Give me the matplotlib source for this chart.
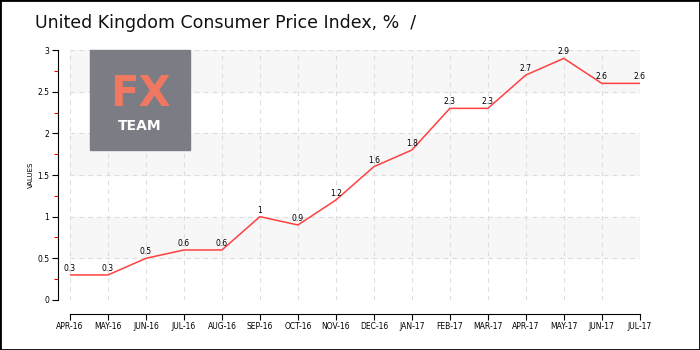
import numpy as np
import matplotlib
matplotlib.use("Agg")
import matplotlib.pyplot as plt
from matplotlib.patches import Rectangle

# 数据
months = ['APR-16', 'MAY-16', 'JUN-16', 'JUL-16', 'AUG-16', 'SEP-16', 'OCT-16', 'NOV-16',
          'DEC-16', 'JAN-17', 'FEB-17', 'MAR-17', 'APR-17', 'MAY-17', 'JUN-17', 'JUL-17']
cpi = [0.3, 0.3, 0.5, 0.6, 0.6, 1, 0.9, 1.2, 1.6, 1.8, 2.3, 2.3, 2.7, 2.9, 2.6, 2.6]
yticks = [0, 0.5, 1, 1.5, 2, 2.5, 3]

plt.rcParams['font.family'] = ['DejaVu Sans']

fig = plt.figure(figsize=(7, 3.5), dpi=100)
fig.patch.set_facecolor('white')
fig.patches.append(Rectangle((0, 0), 1, 1, transform=fig.transFigure, fill=False,
                             edgecolor='black', linewidth=2))

ax = fig.add_axes([0.1, 0.143, 0.814, 0.714])
x = np.arange(len(months))

# 背景条纹
for lo in yticks[1:-1:2]:
    ax.axhspan(lo, lo + 0.5, color='#f7f7f7', zorder=0)

ax.plot(x, cpi, color='#ff4040', linewidth=1.1, zorder=3)
for xi, v in zip(x, cpi):
    ax.annotate(f'{v:g}', (xi, v), xytext=(0, 1.5), textcoords='offset points',
                ha='center', va='bottom', fontsize=5.5, zorder=4)

ax.set_xlim(0, len(months) - 1)
ax.set_ylim(0, 3)
ax.set_xticks(x, months)
ax.set_yticks(yticks, [f'{t:g}' for t in yticks])
ax.set_yticks(np.arange(0.25, 3, 0.5), minor=True)
ax.tick_params(axis='y', which='minor', colors='red', length=3, width=0.8)
ax.tick_params(axis='both', which='major', length=4, width=0.8, pad=2, labelsize=5.5)
ax.set_ylabel('VALUES', fontsize=5, labelpad=2)

ax.grid(True, which='major', linestyle=(0, (4, 4)), color='#dddddd', linewidth=0.8)
ax.set_axisbelow(True)

for s in ['top', 'right']:
    ax.spines[s].set_visible(False)
ax.spines['left'].set_position(('outward', 9))
ax.spines['bottom'].set_position(('outward', 10))
ax.spines['left'].set_bounds(0, 3)
ax.spines['bottom'].set_bounds(0, len(months) - 1)

# 标题
fig.text(0.05, 0.935, 'United Kingdom Consumer Price Index, %  /', fontsize=12.5,
         va='center', ha='left', color='#111111')

# 标志
fig.patches.append(Rectangle((90 / 700, 200 / 350), 100 / 700, 100 / 350,
                             transform=fig.transFigure, color='#7b7c84', zorder=5))
fig.text(140 / 700, 256 / 350, 'FX', fontsize=30, color='#f07860', fontweight='bold',
         ha='center', va='center', zorder=6)
fig.text(140 / 700, 224 / 350, 'TEAM', fontsize=10, color='white', fontweight='bold',
         ha='center', va='center', zorder=6)

fig.savefig('out.png', dpi=100)
